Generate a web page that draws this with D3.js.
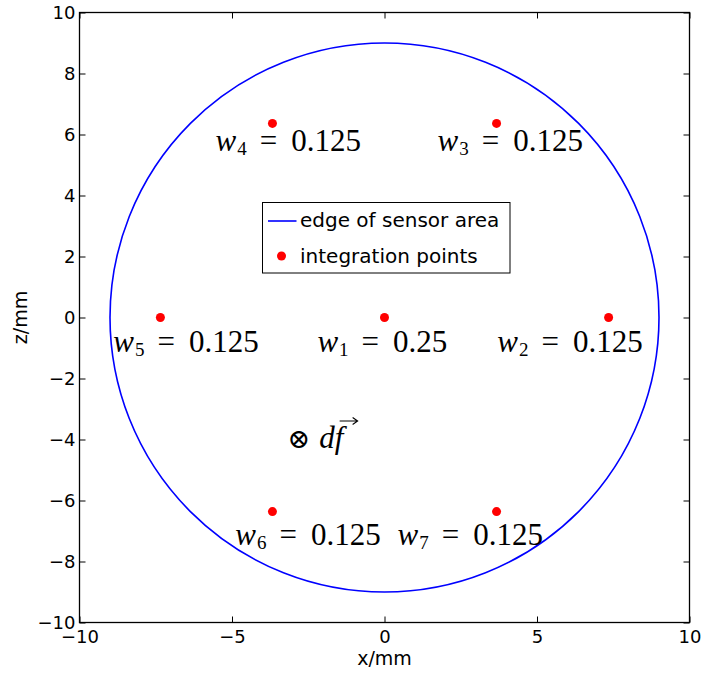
<!DOCTYPE html>
<html>
<head>
<meta charset="utf-8">
<script src="https://cdn.jsdelivr.net/npm/d3@7"></script>
<style>
  html, body { margin: 0; padding: 0; background: #fff; }
  svg { display: block; }
  .tick-label { font-family: "DejaVu Sans", sans-serif; font-size: 18px; fill: #000; }
  .axis-title { font-family: "DejaVu Sans", sans-serif; font-size: 19px; fill: #000; }
  .legend-label { font-family: "DejaVu Sans", sans-serif; font-size: 20px; fill: #000; }
  .math { font-family: "Liberation Serif", "DejaVu Serif", serif; font-size: 31px; fill: #000; }
</style>
</head>
<body>
<svg id="chart" width="704" height="675"></svg>
<script>
// Sensor edge radius (mm)
const sensorRadius = 9;

// Integration points (mm) and their weights
const pointNames = ["w1", "w2", "w3", "w4", "w5", "w6", "w7"];
const pointX = [0, 7.348, 3.674, -3.674, -7.348, -3.674, 3.674];
const pointZ = [0, 0, 6.364, 6.364, 0, -6.364, -6.364];
const weights = ["0.25", "0.125", "0.125", "0.125", "0.125", "0.125", "0.125"];

// Weight label anchors (mm): left edge and baseline
const labelX = [-2.20, 3.70, 1.74, -5.54, -8.89, -4.89, 0.43];
const labelZ = [-1.12, -1.12, 5.47, 5.47, -1.12, -7.46, -7.46];

// Force annotation anchor (mm)
const forceX = -3.18;
const forceZ = -4.28;

// Axis ticks
const xTicks = [-10, -5, 0, 5, 10];
const zTicks = [-10, -8, -6, -4, -2, 0, 2, 4, 6, 8, 10];

// Legend entries
const legendLabels = ["edge of sensor area", "integration points"];

const svg = d3.select("#chart");
const W = 704, H = 675;
const margin = { left: 79.5, right: W - 689.5, top: 12.5, bottom: H - 622.5 };

const x = d3.scaleLinear().domain([-10, 10]).range([margin.left, W - margin.right]);
const z = d3.scaleLinear().domain([-10, 10]).range([H - margin.bottom, margin.top]);

const fmt = v => (v < 0 ? "\u2212" + Math.abs(v) : String(v));

// Axes: inward ticks on all four sides of the box
const tickLen = 6;
const gBottom = svg.append("g").attr("transform", `translate(0,${z(-10)})`)
  .call(d3.axisBottom(x).tickValues(xTicks).tickSizeInner(-tickLen).tickSizeOuter(0).tickPadding(8).tickFormat(fmt));
const gTop = svg.append("g").attr("transform", `translate(0,${z(10)})`)
  .call(d3.axisTop(x).tickValues(xTicks).tickSizeInner(-tickLen).tickSizeOuter(0).tickFormat(""));
const gLeft = svg.append("g").attr("transform", `translate(${x(-10)},0)`)
  .call(d3.axisLeft(z).tickValues(zTicks).tickSizeInner(-tickLen).tickSizeOuter(0).tickPadding(4).tickFormat(fmt));
const gRight = svg.append("g").attr("transform", `translate(${x(10)},0)`)
  .call(d3.axisRight(z).tickValues(zTicks).tickSizeInner(-tickLen).tickSizeOuter(0).tickFormat(""));

[gBottom, gTop, gLeft, gRight].forEach(g => {
  g.attr("font-size", null).attr("font-family", null);
  g.select(".domain").remove();
  g.selectAll(".tick line").attr("stroke", "#000").attr("stroke-width", 1);
  g.selectAll(".tick text").attr("class", "tick-label");
});

// Plot box
svg.append("rect")
  .attr("x", x(-10)).attr("y", z(10))
  .attr("width", x(10) - x(-10)).attr("height", z(-10) - z(10))
  .attr("fill", "none").attr("stroke", "#000").attr("stroke-width", 1.3);

// Axis titles
svg.append("text").attr("class", "axis-title")
  .attr("x", x(0)).attr("y", 665).attr("text-anchor", "middle").text("x/mm");
svg.append("text").attr("class", "axis-title")
  .attr("transform", `translate(27,${z(0)}) rotate(-90)`)
  .attr("text-anchor", "middle").text("z/mm");

// Sensor edge
svg.append("ellipse")
  .attr("cx", x(0)).attr("cy", z(0))
  .attr("rx", x(sensorRadius) - x(0)).attr("ry", z(0) - z(sensorRadius))
  .attr("fill", "none").attr("stroke", "#0000ff").attr("stroke-width", 1.6);

// Integration points
svg.append("g").selectAll("circle")
  .data(pointX.map((v, i) => ({ x: v, z: pointZ[i] })))
  .join("circle")
  .attr("cx", d => x(d.x)).attr("cy", d => z(d.z))
  .attr("r", 4.5).attr("fill", "#ff0000");

// Weight labels: w_i = value
pointNames.forEach((name, i) => {
  const t = svg.append("text").attr("class", "math")
    .attr("x", x(labelX[i])).attr("y", z(labelZ[i]));
  t.append("tspan").attr("font-style", "italic").text("w");
  t.append("tspan").attr("font-size", "19px").attr("dx", 1).attr("dy", 4).text(name.slice(1));
  t.append("tspan").attr("dx", 13).attr("dy", -4).text("=");
  t.append("tspan").attr("dx", 14).text(weights[i]);
});

// Force annotation: ⊗ d f with a vector arrow drawn above the f
const fx = x(forceX), fz = z(forceZ);
const ft = svg.append("text").attr("class", "math").attr("x", fx).attr("y", fz);
ft.append("tspan").attr("font-family", "DejaVu Serif, serif").attr("font-size", "27px").text("\u2297");
ft.append("tspan").attr("font-style", "italic").attr("dx", 9).text("df");
const fBox = ft.node().getBBox();
const ax0 = fBox.x + fBox.width - 8, ax1 = ax0 + 18, ay = fz - 27;
svg.append("path")
  .attr("d", `M${ax0},${ay}H${ax1}M${ax1 - 5},${ay - 3.5}L${ax1},${ay}L${ax1 - 5},${ay + 3.5}`)
  .attr("fill", "none").attr("stroke", "#000").attr("stroke-width", 1.1);

// Legend
const lg = svg.append("g");
const lgX = 262.5, lgY = 202.5, lgW = 247.5, lgH = 70.5;
lg.append("rect").attr("x", lgX).attr("y", lgY).attr("width", lgW).attr("height", lgH)
  .attr("fill", "#fff").attr("stroke", "#000").attr("stroke-width", 1);
lg.append("line").attr("x1", lgX + 5.5).attr("x2", lgX + 34).attr("y1", lgY + 18.5).attr("y2", lgY + 18.5)
  .attr("stroke", "#0000ff").attr("stroke-width", 1.6);
lg.append("circle").attr("cx", lgX + 19).attr("cy", lgY + 53.5).attr("r", 4.5).attr("fill", "#ff0000");
legendLabels.forEach((s, i) => {
  lg.append("text").attr("class", "legend-label")
    .attr("x", lgX + 37.5).attr("y", lgY + 24.5 + i * 36).text(s);
});
</script>
</body>
</html>
